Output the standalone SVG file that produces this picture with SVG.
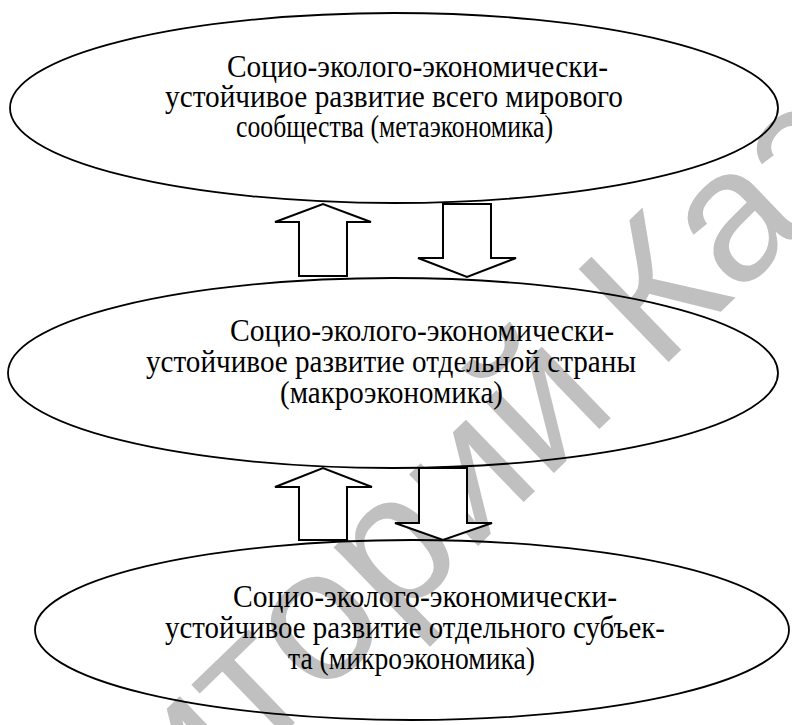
<svg xmlns="http://www.w3.org/2000/svg" width="792" height="725" viewBox="0 0 792 725">
<style>
.wm{font-family:"Liberation Sans",Arial,sans-serif;font-size:188px;fill:#c0c0c0}
.el{fill:none;stroke:#000;stroke-width:1.8}
.ar{fill:#fff;stroke:#000;stroke-width:2;stroke-linejoin:miter}
.t{font-family:"Liberation Serif","Times New Roman",serif;font-size:31px;fill:#000}
</style>
<rect width="792" height="725" fill="#fff"/>
<g id="watermark">
<text class="wm" transform="translate(678,353) rotate(-44)" x="-1201">Репозиторий КазГАСУ</text>
</g>
<g id="connectors">
<polygon class="ar" points="299,276 299,222 275,222 323,204 371,222 347,222 347,276"/>
<polygon class="ar" points="443,204 491,204 491,258 516,258 467,277 418,258 443,258"/>
<polygon class="ar" points="299,540 299,487 275,487 323,468 372,487 347,487 347,540"/>
<polygon class="ar" points="419,468 467,468 467,523 492,523 443,540 395,523 419,523"/>
</g>
<g id="node-meta">
<ellipse class="el" cx="394" cy="108" rx="384" ry="95"/>
<text class="t" x="227" y="77" textLength="381" lengthAdjust="spacingAndGlyphs">Социо-эколого-экономически-</text>
<text class="t" x="165" y="107" textLength="458" lengthAdjust="spacingAndGlyphs">устойчивое развитие всего мирового</text>
<text class="t" x="236" y="137" textLength="317" lengthAdjust="spacingAndGlyphs">сообщества (метаэкономика)</text>
</g>
<g id="node-macro">
<ellipse class="el" cx="393" cy="373" rx="385" ry="95"/>
<text class="t" x="230" y="341" textLength="384" lengthAdjust="spacingAndGlyphs">Социо-эколого-экономически-</text>
<text class="t" x="146" y="372" textLength="490" lengthAdjust="spacingAndGlyphs">устойчивое развитие отдельной страны</text>
<text class="t" x="280" y="403" textLength="223" lengthAdjust="spacingAndGlyphs">(макроэкономика)</text>
</g>
<g id="node-micro">
<ellipse class="el" cx="412" cy="630" rx="377" ry="90"/>
<text class="t" x="233" y="607" textLength="384" lengthAdjust="spacingAndGlyphs">Социо-эколого-экономически-</text>
<text class="t" x="165" y="638" textLength="500" lengthAdjust="spacingAndGlyphs">устойчивое развитие отдельного субъек-</text>
<text class="t" x="288" y="669" textLength="247" lengthAdjust="spacingAndGlyphs">та (микроэкономика)</text>
</g>
</svg>
